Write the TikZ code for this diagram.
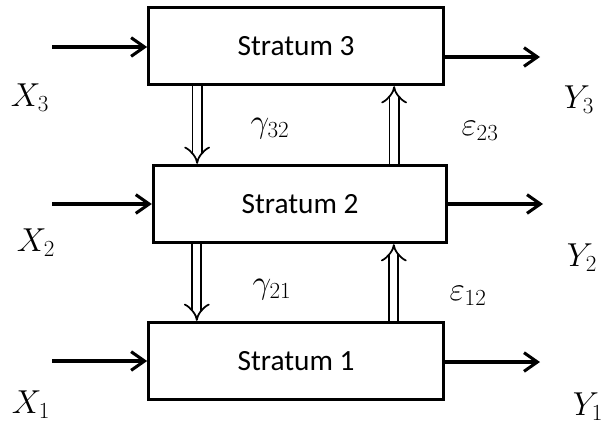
\documentclass[tikz,border=0pt]{standalone}
\usepackage{fontspec}
\setmainfont{Carlito}
\usetikzlibrary{arrows.meta}

\begin{document}
\begin{tikzpicture}[
  x=0.75pt,y=-0.75pt,
  stratum/.style={draw,line width=2.3pt,minimum width=221pt,minimum height=58pt,
    inner sep=0pt,font=\fontsize{22}{26}\selectfont},
  flow/.style={line width=2.3pt,
    -{Straight Barb[length=10pt,width=14pt,line width=2.3pt]}},
  link/.style={double,double distance=5.5pt,line width=1.3pt,
    -{Implies[length=7pt,width=15pt]}},
  lbl/.style={font=\fontsize{27}{30}\selectfont,inner sep=0pt}]
  \useasboundingbox (0,0) rectangle (605,425);

  % the three strata
  \node[stratum] (s3) at (296,46) {Stratum 3};
  \node[stratum,minimum width=220pt] (s2) at (300,204) {Stratum 2};
  \node[stratum] (s1) at (296,361) {Stratum 1};

  % inputs and outputs
  \coordinate (in3) at (52,47);
  \coordinate (in2) at (52,204);
  \coordinate (in1) at (52,361);
  \coordinate (out3) at (540,57);
  \coordinate (out2) at (543,204);
  \coordinate (out1) at (540,362);
  \draw[flow] (in3) -- (in3 -| s3.west);
  \draw[flow] (in2) -- (in2 -| s2.west);
  \draw[flow] (in1) -- (in1 -| s1.west);
  \draw[flow] (out3 -| s3.east) -- (out3);
  \draw[flow] (out2 -| s2.east) -- (out2);
  \draw[flow] (out1 -| s1.east) -- (out1);

  \node[lbl] at (30,98) {$X_3$};
  \node[lbl] at (36,243) {$X_2$};
  \node[lbl] at (31,405) {$X_1$};
  \node[lbl] at (579,100) {$Y_3$};
  \node[lbl] at (582,258) {$Y_2$};
  \node[lbl] at (588,407) {$Y_1$};

  % coordination down, feedback up
  \path (s3.south west) ++(50,0) coordinate (d3) ++(197,0) coordinate (u3);
  \path (s2.south west) ++(45,0) coordinate (d2) ++(197,0) coordinate (u2);
  \draw[link] (d3) -- (d3 |- s2.north);
  \draw[link] (u3 |- s2.north) -- (u3);
  \draw[link] (d2) -- (d2 |- s1.north);
  \draw[link] (u2 |- s1.north) -- (u2);

  \node[lbl] at (270,129) {$\gamma_{32}$};
  \node[lbl] at (480,131) {$\varepsilon_{23}$};
  \node[lbl] at (272,290) {$\gamma_{21}$};
  \node[lbl] at (468,296) {$\varepsilon_{12}$};
\end{tikzpicture}
\end{document}
